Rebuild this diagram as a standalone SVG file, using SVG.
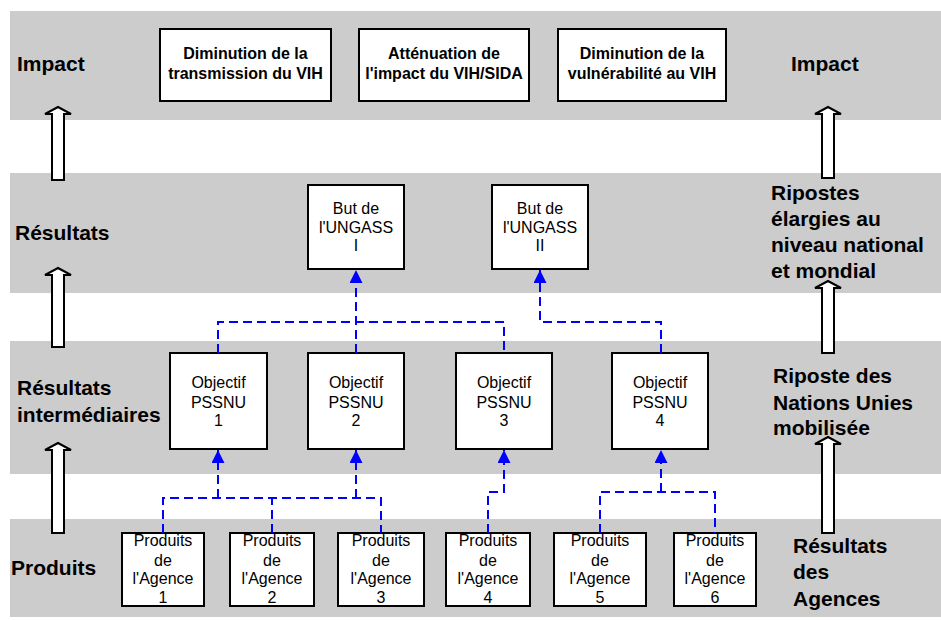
<svg xmlns="http://www.w3.org/2000/svg" width="941" height="620" viewBox="0 0 941 620">
<defs>
<style>
.band{fill:#CCCCCC;stroke:none}
.box{fill:#FFFFFF;stroke:#000000;stroke-width:2}
.lbl{font-family:"Liberation Sans",Arial,sans-serif;font-size:21px;font-weight:bold;fill:#000}
.bt{font-family:"Liberation Sans",Arial,sans-serif;font-size:16px;font-weight:bold;fill:#000;text-anchor:middle}
.nt{font-family:"Liberation Sans",Arial,sans-serif;font-size:16px;fill:#000;text-anchor:middle}
.blk{fill:#FFFFFF;stroke:#000000;stroke-width:2;stroke-linejoin:miter}
.dash{fill:none;stroke:#0000FF;stroke-width:2;stroke-dasharray:9,5}
</style>
<marker id="ah" markerUnits="userSpaceOnUse" markerWidth="13" markerHeight="13" viewBox="0 0 12 12" refX="12" refY="6" orient="auto">
<path d="M0,0 L12,6 L0,12 Z" fill="#0000FF"/>
</marker>
</defs>

<g id="bands">
<rect class="band" x="10" y="11" width="931" height="109"/>
<rect class="band" x="10" y="173" width="931" height="120"/>
<rect class="band" x="10" y="341" width="931" height="133"/>
<rect class="band" x="10" y="519" width="931" height="98"/>
</g>

<g id="labels">
<text class="lbl" x="17" y="71">Impact</text>
<text class="lbl" x="791" y="71">Impact</text>
<text class="lbl" x="15" y="240">Résultats</text>
<text class="lbl"><tspan x="771" y="200">Ripostes</tspan><tspan x="771" y="226">élargies au</tspan><tspan x="771" y="252">niveau national</tspan><tspan x="771" y="278">et mondial</tspan></text>
<text class="lbl"><tspan x="17" y="395">Résultats</tspan><tspan x="17" y="422">intermédiaires</tspan></text>
<text class="lbl"><tspan x="773" y="383">Riposte des</tspan><tspan x="773" y="410">Nations Unies</tspan><tspan x="773" y="435">mobilisée</tspan></text>
<text class="lbl" x="11" y="575">Produits</text>
<text class="lbl"><tspan x="793" y="553">Résultats</tspan><tspan x="793" y="579">des</tspan><tspan x="793" y="606">Agences</tspan></text>
</g>

<g id="block-arrows">
<path class="blk" d="M58,107 L71,114 L64,114 L64,180 L52,180 L52,114 L45,114 Z"/>
<path class="blk" d="M58,268 L71,275 L64,275 L64,347 L52,347 L52,275 L45,275 Z"/>
<path class="blk" d="M58,443 L71,450 L64,450 L64,533 L52,533 L52,450 L45,450 Z"/>
<path class="blk" d="M828,107 L841,114 L834,114 L834,178 L822,178 L822,114 L815,114 Z"/>
<path class="blk" d="M828,281 L841,288 L834,288 L834,353 L822,353 L822,288 L815,288 Z"/>
<path class="blk" d="M828,437 L841,444 L834,444 L834,533 L822,533 L822,444 L815,444 Z"/>
</g>

<g id="impact1"><rect class="box" x="160" y="29" width="171" height="72"/><text class="bt"><tspan x="245.5" y="59">Diminution de la</tspan><tspan x="245.5" y="79">transmission du VIH</tspan></text></g>
<g id="impact2"><rect class="box" x="359" y="29" width="170" height="72"/><text class="bt"><tspan x="444" y="59">Atténuation de</tspan><tspan x="444" y="79">l'impact du VIH/SIDA</tspan></text></g>
<g id="impact3"><rect class="box" x="558" y="29" width="168" height="72"/><text class="bt"><tspan x="642" y="59">Diminution de la</tspan><tspan x="642" y="79">vulnérabilité au VIH</tspan></text></g>

<g id="but1"><rect class="box" x="308" y="185" width="96" height="84"/><text class="nt"><tspan x="356" y="214">But de</tspan><tspan x="356" y="233">l'UNGASS</tspan><tspan x="356" y="251">I</tspan></text></g>
<g id="but2"><rect class="box" x="492" y="185" width="96" height="84"/><text class="nt"><tspan x="540" y="214">But de</tspan><tspan x="540" y="233">l'UNGASS</tspan><tspan x="540" y="251">II</tspan></text></g>

<g id="obj1"><rect class="box" x="170" y="353" width="97" height="96"/><text class="nt"><tspan x="218.5" y="388">Objectif</tspan><tspan x="218.5" y="408">PSSNU</tspan><tspan x="218.5" y="426">1</tspan></text></g>
<g id="obj2"><rect class="box" x="308" y="353" width="96" height="96"/><text class="nt"><tspan x="356" y="388">Objectif</tspan><tspan x="356" y="408">PSSNU</tspan><tspan x="356" y="426">2</tspan></text></g>
<g id="obj3"><rect class="box" x="456" y="353" width="96" height="96"/><text class="nt"><tspan x="504" y="388">Objectif</tspan><tspan x="504" y="408">PSSNU</tspan><tspan x="504" y="426">3</tspan></text></g>
<g id="obj4"><rect class="box" x="612" y="353" width="96" height="96"/><text class="nt"><tspan x="660" y="388">Objectif</tspan><tspan x="660" y="408">PSSNU</tspan><tspan x="660" y="426">4</tspan></text></g>

<g id="prod1"><rect class="box" x="122" y="533" width="82" height="73"/><text class="nt"><tspan x="163" y="546">Produits</tspan><tspan x="163" y="566">de</tspan><tspan x="163" y="584">l'Agence</tspan><tspan x="163" y="603">1</tspan></text></g>
<g id="prod2"><rect class="box" x="230" y="533" width="84" height="73"/><text class="nt"><tspan x="272" y="546">Produits</tspan><tspan x="272" y="566">de</tspan><tspan x="272" y="584">l'Agence</tspan><tspan x="272" y="603">2</tspan></text></g>
<g id="prod3"><rect class="box" x="338" y="533" width="86" height="73"/><text class="nt"><tspan x="381" y="546">Produits</tspan><tspan x="381" y="566">de</tspan><tspan x="381" y="584">l'Agence</tspan><tspan x="381" y="603">3</tspan></text></g>
<g id="prod4"><rect class="box" x="446" y="533" width="84" height="73"/><text class="nt"><tspan x="488" y="546">Produits</tspan><tspan x="488" y="566">de</tspan><tspan x="488" y="584">l'Agence</tspan><tspan x="488" y="603">4</tspan></text></g>
<g id="prod5"><rect class="box" x="554" y="533" width="92" height="73"/><text class="nt"><tspan x="600" y="546">Produits</tspan><tspan x="600" y="566">de</tspan><tspan x="600" y="584">l'Agence</tspan><tspan x="600" y="603">5</tspan></text></g>
<g id="prod6"><rect class="box" x="674" y="533" width="82" height="73"/><text class="nt"><tspan x="715" y="546">Produits</tspan><tspan x="715" y="566">de</tspan><tspan x="715" y="584">l'Agence</tspan><tspan x="715" y="603">6</tspan></text></g>

<g id="connectors">
<path class="dash" d="M218,353 V322 H504 V353"/>
<path class="dash" d="M356,353 V270" marker-end="url(#ah)"/>
<path class="dash" d="M661,353 V322 H540 V270" marker-end="url(#ah)"/>
<path class="dash" d="M163,533 V498 H381 V533"/>
<path class="dash" d="M272,533 V498"/>
<path class="dash" d="M218,498 V450" marker-end="url(#ah)"/>
<path class="dash" d="M356,498 V450" marker-end="url(#ah)"/>
<path class="dash" d="M488,533 V492 H504 V450" marker-end="url(#ah)"/>
<path class="dash" d="M600,533 V492 H715 V533"/>
<path class="dash" d="M661,492 V450" marker-end="url(#ah)"/>
</g>
</svg>
